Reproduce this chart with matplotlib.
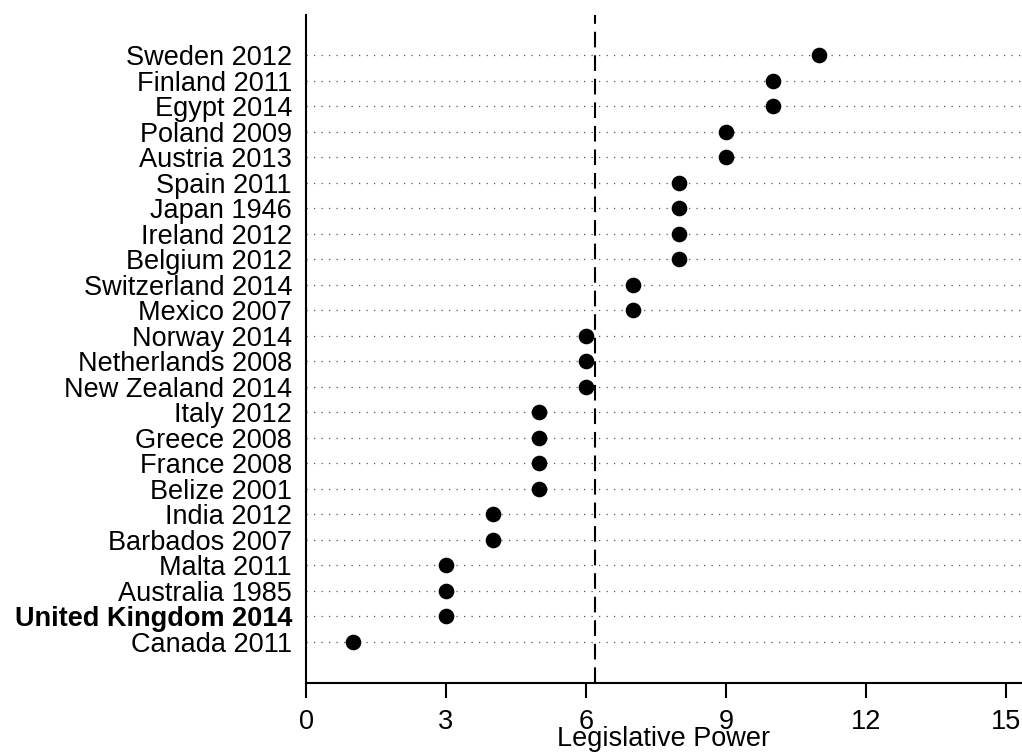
import matplotlib
matplotlib.use("Agg")
import matplotlib.pyplot as plt

countries = ["Sweden 2012", "Finland 2011", "Egypt 2014", "Poland 2009", "Austria 2013",
             "Spain 2011", "Japan 1946", "Ireland 2012", "Belgium 2012", "Switzerland 2014",
             "Mexico 2007", "Norway 2014", "Netherlands 2008", "New Zealand 2014", "Italy 2012",
             "Greece 2008", "France 2008", "Belize 2001", "India 2012", "Barbados 2007",
             "Malta 2011", "Australia 1985", "United Kingdom 2014", "Canada 2011"]
power = [11, 10, 10, 9, 9, 8, 8, 8, 8, 7, 7, 6, 6, 6, 5, 5, 5, 5, 4, 4, 3, 3, 3, 1]
mean_line = 6.19
xticks = [0, 3, 6, 9, 12, 15]
highlight = "United Kingdom 2014"

plt.rcParams['font.family'] = ['Liberation Sans', 'DejaVu Sans']
FS = 19.5

fig = plt.figure(figsize=(10.22, 7.53), dpi=100)
ax = fig.add_axes([306/1022, 70/753, (1022-306)/1022, (683-15)/753])

n = len(countries)
ypos = list(range(n, 0, -1))

for y in ypos:
    ax.axhline(y, color='#555555', lw=0.9, ls=(0, (1, 5)), zorder=1)

ax.scatter(power, ypos, s=105, color='black', zorder=3)
ax.axvline(mean_line, color='black', lw=1.5, ls=(0, (7.5, 3.8)), zorder=2)

ax.set_xlim(0, 15.34)
ax.set_ylim(-0.62, n + 1.57)
ax.set_yticks(ypos)
ax.set_yticklabels(countries, fontsize=FS)
for lbl in ax.get_yticklabels():
    if lbl.get_text() == highlight:
        lbl.set_fontweight('bold')
ax.tick_params(axis='y', length=0, pad=10)
ax.set_xticks(xticks)
ax.set_xticklabels([str(t) for t in xticks], fontsize=FS)
ax.tick_params(axis='x', length=10.5, width=1.5, pad=8)
ax.set_xlabel("Legislative Power", fontsize=FS, labelpad=-6)

for s in ['top', 'right']:
    ax.spines[s].set_visible(False)
for s in ['left', 'bottom']:
    ax.spines[s].set_linewidth(1.5)

fig.savefig("out.png", dpi=100)
